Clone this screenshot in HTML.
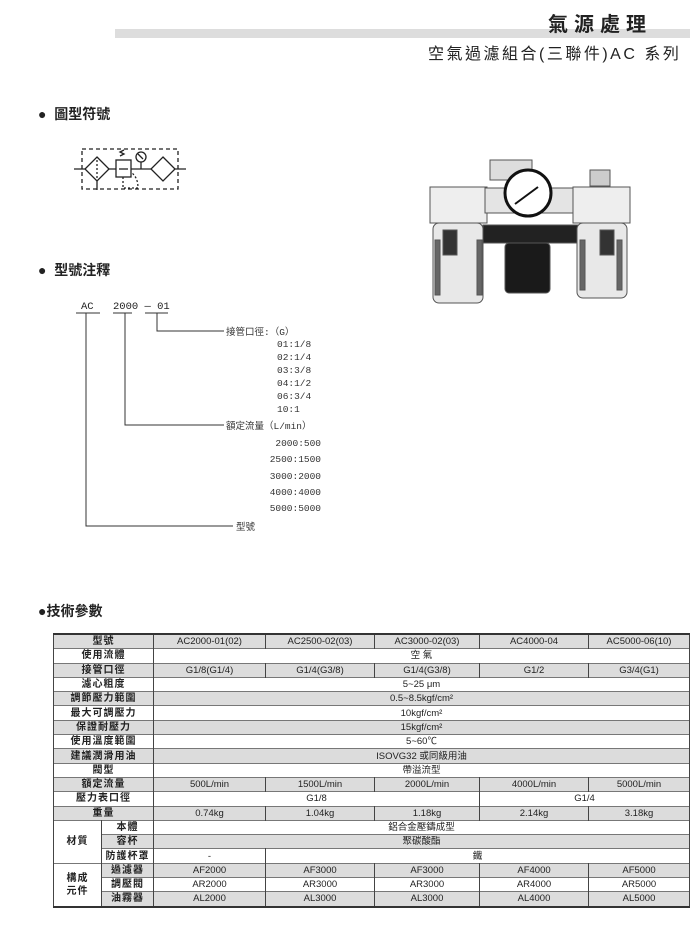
<!DOCTYPE html>
<html><head><meta charset="utf-8"><style>
body{margin:0;width:700px;height:928px;background:#fff;position:relative;overflow:hidden;font-family:"Liberation Sans","Noto Sans CJK TC",sans-serif;color:#222}
.a{position:absolute;white-space:nowrap}
table{position:absolute;left:53px;top:633px;width:637px;border-collapse:collapse;font-size:9.5px}
td{height:13.3px;padding:0;text-align:center;border-left:1px solid #444;border-right:1px solid #444;line-height:13px}
tr{border-top:1px solid #777}
tr.g td{background:#dcdcdc}
table{border-top:2px solid #333;border-bottom:2px solid #333}
td.l{font-weight:bold;letter-spacing:1px;font-size:10px}
</style></head><body>
<div class="a" style="left:115px;top:29px;width:575px;height:9px;background:#ddd"></div>
<div class="a" style="left:548px;top:8px;font-size:20px;font-weight:bold;letter-spacing:6px">氣源處理</div>
<div class="a" style="left:428px;top:40px;font-size:16px;letter-spacing:2.5px">空氣過濾組合(三聯件)AC 系列</div>
<div class="a" style="left:38px;top:104px;font-size:14px;font-weight:bold">●&nbsp; 圖型符號</div>
<div class="a" style="left:38px;top:260px;font-size:14px;font-weight:bold">●&nbsp; 型號注釋</div>
<div class="a" style="left:38px;top:601px;font-size:14px;font-weight:bold">●技術參數</div>
<svg class="a" style="left:0;top:0" width="700" height="600">
<g stroke="#222" fill="none" stroke-width="1.3">
<rect x="82" y="149" width="96" height="40" stroke-dasharray="4,3"/>
<line x1="74" y1="169" x2="186" y2="169"/>
<polygon points="97,157 109,169 97,181 85,169" fill="#fff"/>
<line x1="97" y1="160" x2="97" y2="178" stroke-dasharray="2,2"/>
<line x1="97" y1="181" x2="97" y2="190"/>
<rect x="116" y="160" width="15" height="17" fill="#fff"/>
<line x1="119" y1="169" x2="128" y2="169"/>
<path d="M120,156 l4,-2 l-4,-2 l4,-2" />
<circle cx="141" cy="157" r="5"/><line x1="141" y1="162" x2="141" y2="169"/><line x1="138" y1="154" x2="143" y2="159"/>
<path d="M123,177 v11 h15 q0,-10 -6,-15" stroke-dasharray="2,2"/>
<polygon points="163,157 175,169 163,181 151,169" fill="#fff"/>
</g>
<g stroke="#333" fill="none" stroke-width="1">
<line x1="76" y1="313" x2="100" y2="313"/><line x1="113" y1="313" x2="132" y2="313"/><line x1="145" y1="313" x2="168" y2="313"/>
<polyline points="157,313 157,331 224,331"/>
<polyline points="125,313 125,425 224,425"/>
<polyline points="86,313 86,526 233,526"/>
</g>
<g font-family="Liberation Mono,monospace" font-size="10.5" fill="#222">
<text x="81" y="309">AC</text><text x="113" y="309">2000 — 01</text>
</g>
<g font-family="Liberation Mono,'Noto Sans CJK TC',monospace" font-size="9.5" fill="#333">
<text x="226" y="335">接管口徑:（G）</text>
<text x="277" y="347">01:1/8</text><text x="277" y="360">02:1/4</text><text x="277" y="373">03:3/8</text><text x="277" y="386">04:1/2</text><text x="277" y="399">06:3/4</text><text x="277" y="412">10:1</text>
<text x="226" y="429">額定流量（L/min）</text>
<g text-anchor="end"><text x="321" y="446">2000:500</text><text x="321" y="462">2500:1500</text><text x="321" y="479">3000:2000</text><text x="321" y="495">4000:4000</text><text x="321" y="511">5000:5000</text></g>
<text x="236" y="530">型號</text>
</g>
<g stroke="#555" stroke-width="1">
<rect x="430" y="187" width="57" height="36" fill="#eee"/>
<rect x="433" y="223" width="50" height="80" rx="6" fill="#e8e8e8"/>
<rect x="443" y="230" width="14" height="25" fill="#333"/>
<rect x="435" y="240" width="5" height="55" fill="#666"/>
<rect x="477" y="240" width="5" height="55" fill="#666"/>
<rect x="485" y="188" width="100" height="25" fill="#e4e4e4"/>
<rect x="490" y="160" width="42" height="20" fill="#ddd"/>
<rect x="483" y="225" width="105" height="18" fill="#222"/>
<rect x="505" y="243" width="45" height="50" rx="4" fill="#1a1a1a"/>
<circle cx="528" cy="193" r="23" fill="#fff" stroke="#111" stroke-width="3"/>
<line x1="515" y1="204" x2="538" y2="187" stroke="#111" stroke-width="2"/>
<rect x="573" y="187" width="57" height="36" fill="#eee"/>
<rect x="577" y="223" width="50" height="75" rx="6" fill="#e8e8e8"/>
<rect x="600" y="230" width="14" height="25" fill="#333"/>
<rect x="580" y="240" width="5" height="50" fill="#666"/>
<rect x="617" y="240" width="5" height="50" fill="#666"/>
<rect x="590" y="170" width="20" height="16" fill="#ccc"/>
</g>
</svg>
<table>
<colgroup><col style="width:48px"><col style="width:52px"><col style="width:112px"><col style="width:109px"><col style="width:105px"><col style="width:109px"><col></colgroup>
<tr class="g"><td class="l" colspan="2">型號</td><td>AC2000-01(02)</td><td>AC2500-02(03)</td><td>AC3000-02(03)</td><td>AC4000-04</td><td>AC5000-06(10)</td></tr>
<tr><td class="l" colspan="2">使用流體</td><td colspan="5">空 氣</td></tr>
<tr class="g"><td class="l" colspan="2">接管口徑</td><td>G1/8(G1/4)</td><td>G1/4(G3/8)</td><td>G1/4(G3/8)</td><td>G1/2</td><td>G3/4(G1)</td></tr>
<tr><td class="l" colspan="2">濾心粗度</td><td colspan="5">5~25 μm</td></tr>
<tr class="g"><td class="l" colspan="2">調節壓力範圍</td><td colspan="5">0.5~8.5kgf/cm²</td></tr>
<tr><td class="l" colspan="2">最大可調壓力</td><td colspan="5">10kgf/cm²</td></tr>
<tr class="g"><td class="l" colspan="2">保證耐壓力</td><td colspan="5">15kgf/cm²</td></tr>
<tr><td class="l" colspan="2">使用溫度範圍</td><td colspan="5">5~60℃</td></tr>
<tr class="g"><td class="l" colspan="2">建議潤滑用油</td><td colspan="5">ISOVG32 或同級用油</td></tr>
<tr><td class="l" colspan="2">閥型</td><td colspan="5">帶溢流型</td></tr>
<tr class="g"><td class="l" colspan="2">額定流量</td><td>500L/min</td><td>1500L/min</td><td>2000L/min</td><td>4000L/min</td><td>5000L/min</td></tr>
<tr><td class="l" colspan="2">壓力表口徑</td><td colspan="3">G1/8</td><td colspan="2">G1/4</td></tr>
<tr class="g"><td class="l" colspan="2">重量</td><td>0.74kg</td><td>1.04kg</td><td>1.18kg</td><td>2.14kg</td><td>3.18kg</td></tr>
<tr><td class="l" rowspan="3" style="background:#fff">材質</td><td class="l">本體</td><td colspan="5">鋁合金壓鑄成型</td></tr>
<tr class="g"><td class="l">容杯</td><td colspan="5">聚碳酸酯</td></tr>
<tr><td class="l">防護杯罩</td><td>-</td><td colspan="4">鐵</td></tr>
<tr class="g"><td class="l" rowspan="3" style="background:#fff">構成<br>元件</td><td class="l">過濾器</td><td>AF2000</td><td>AF3000</td><td>AF3000</td><td>AF4000</td><td>AF5000</td></tr>
<tr><td class="l">調壓閥</td><td>AR2000</td><td>AR3000</td><td>AR3000</td><td>AR4000</td><td>AR5000</td></tr>
<tr class="g"><td class="l">油霧器</td><td>AL2000</td><td>AL3000</td><td>AL3000</td><td>AL4000</td><td>AL5000</td></tr>
</table>
</body></html>
